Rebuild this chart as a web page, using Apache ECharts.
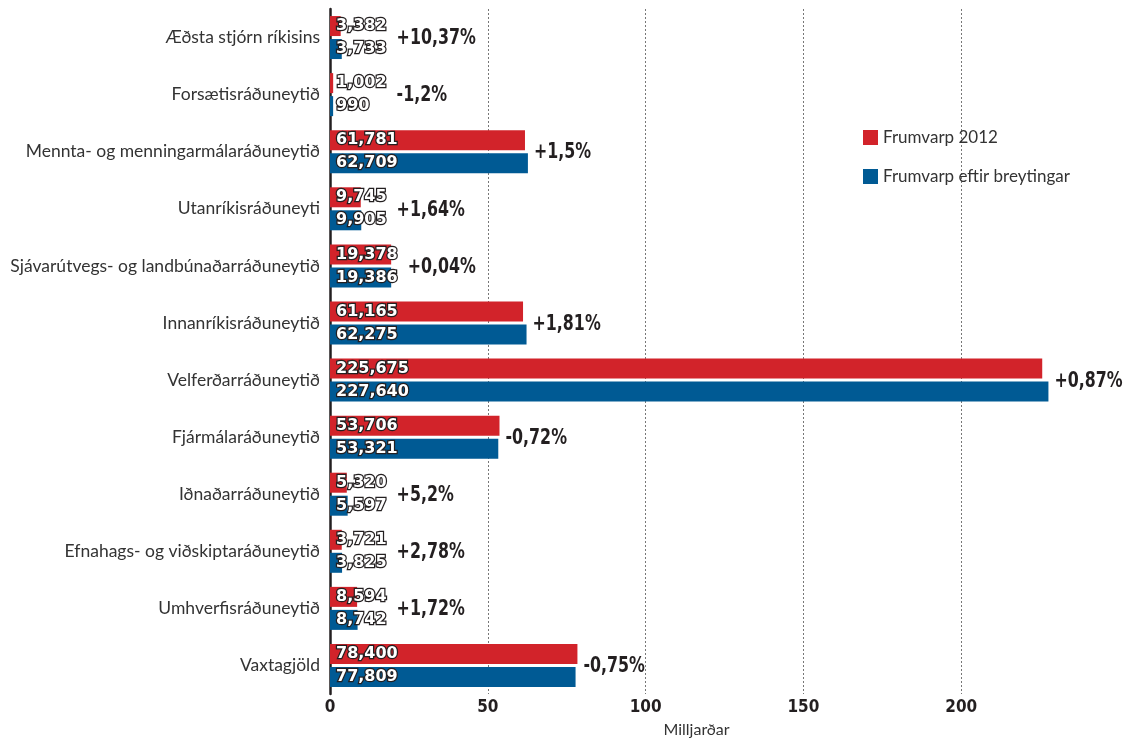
<!DOCTYPE html>
<html>
<head>
<meta charset="utf-8">
<script src="https://cdn.jsdelivr.net/npm/echarts@6/dist/echarts.min.js"></script>
<style>
html,body{margin:0;padding:0;background:#fff;}
#chart{width:1123px;height:740px;}
</style>
</head>
<body>
<div id="chart"></div>
<script>
const categories = [
  'Æðsta stjórn ríkisins',
  'Forsætisráðuneytið',
  'Mennta- og menningarmálaráðuneytið',
  'Utanríkisráðuneyti',
  'Sjávarútvegs- og landbúnaðarráðuneytið',
  'Innanríkisráðuneytið',
  'Velferðarráðuneytið',
  'Fjármálaráðuneytið',
  'Iðnaðarráðuneytið',
  'Efnahags- og viðskiptaráðuneytið',
  'Umhverfisráðuneytið',
  'Vaxtagjöld'
];
// values in millions (axis shows milljarðar)
const frumvarp2012 = [3382, 1002, 61781, 9745, 19378, 61165, 225675, 53706, 5320, 3721, 8594, 78400];
const eftirBreytingar = [3733, 990, 62709, 9905, 19386, 62275, 227640, 53321, 5597, 3825, 8742, 77809];
const changeLabels = ['+10,37%', '-1,2%', '+1,5%', '+1,64%', '+0,04%', '+1,81%', '+0,87%', '-0,72%', '+5,2%', '+2,78%', '+1,72%', '-0,75%'];
const xTicks = [0, 50, 100, 150, 200, 250];
const seriesNames = ['Frumvarp 2012', 'Frumvarp eftir breytingar'];

const RED = '#d2232a', BLUE = '#005a94';
const COND = '"DejaVu Sans Condensed", "Liberation Sans Narrow", "DejaVu Sans", sans-serif';
const fmt = v => v.toLocaleString('en-US');
const valFont = 'bold 16px "DejaVu Sans"';
const measureCtx = document.createElement('canvas').getContext('2d');
function textW(t){ measureCtx.font = valFont; return measureCtx.measureText(t).width; }

const chart = echarts.init(document.getElementById('chart'));

const valueLabel = {
  show: true,
  position: 'insideLeft',
  distance: 6,
  formatter: p => fmt(p.data.raw),
  color: '#fff',
  fontFamily: 'DejaVu Sans',
  fontWeight: 'bold',
  fontSize: 16,
  textBorderColor: '#231f20',
  textBorderWidth: 2.5
};

chart.setOption({
  animation: false,
  grid: { left: 330, right: 4, top: 9, bottom: 46, containLabel: false, outerBoundsMode: 'none' },
  legend: {
    orient: 'vertical',
    left: 858,
    top: 124,
    itemWidth: 15,
    itemHeight: 15,
    itemGap: 22,
    icon: 'rect',
    textStyle: { fontFamily: 'Lato', fontSize: 17, color: '#333', padding: [0, 0, 0, 0] },
    data: seriesNames
  },
  xAxis: {
    type: 'value',
    min: xTicks[0],
    max: xTicks[xTicks.length - 1],
    interval: xTicks[1] - xTicks[0],
    name: 'Milljarðar',
    nameLocation: 'middle',
    nameGap: 28,
    nameTextStyle: { fontFamily: 'Lato', fontSize: 16, color: '#333', padding: [0, 56, 0, 0] },
    axisLine: { show: false },
    axisTick: { show: false },
    axisLabel: {
      showMaxLabel: false,
      margin: 5,
      fontFamily: COND,
      fontWeight: 'bold',
      fontSize: 17,
      color: '#231f20'
    },
    splitLine: {
      show: true,
      lineStyle: {
        type: [2, 2],
        width: 1,
        color: ['rgba(0,0,0,0)', '#777', '#777', '#777', '#777', 'rgba(0,0,0,0)']
      }
    }
  },
  yAxis: {
    type: 'category',
    inverse: true,
    data: categories,
    axisLine: { show: true, lineStyle: { color: '#231f20', width: 2.5 } },
    axisTick: { show: false },
    axisLabel: {
      margin: 10,
      fontFamily: 'Lato',
      fontSize: 17.5,
      color: '#333'
    }
  },
  series: [
    {
      name: seriesNames[0],
      type: 'bar',
      barWidth: 20,
      barGap: '15%',
      itemStyle: { color: RED },
      label: valueLabel,
      data: frumvarp2012.map(v => ({ value: v / 1000, raw: v })),
      z: 2
    },
    {
      name: seriesNames[1],
      type: 'bar',
      barWidth: 20,
      barGap: '15%',
      itemStyle: { color: BLUE },
      label: valueLabel,
      data: eftirBreytingar.map(v => ({ value: v / 1000, raw: v })),
      z: 2
    },
    {
      type: 'custom',
      name: 'change',
      silent: true,
      legendHoverLink: false,
      data: categories.map((c, i) => [i, Math.max(frumvarp2012[i], eftirBreytingar[i]) / 1000]),
      encode: { x: 1, y: 0 },
      renderItem: function (params, api) {
        const i = api.value(0);
        const maxV = api.value(1);
        const endPt = api.coord([maxV, i]);
        const zeroPt = api.coord([0, i]);
        const txtEnd = zeroPt[0] + 6 + Math.max(textW(fmt(frumvarp2012[i])), textW(fmt(eftirBreytingar[i])));
        const barEnd = endPt[0];
        const x = barEnd >= txtEnd ? barEnd + 6 : txtEnd + 10;
        return {
          type: 'text',
          x: x,
          y: endPt[1] + 1,
          scaleX: 0.8,
          style: {
            x: 0,
            y: 0,
            text: changeLabels[i],
            verticalAlign: 'middle',
            align: 'left',
            font: 'bold 22px ' + COND,
            fill: '#231f20'
          }
        };
      },
      z: 3
    }
  ]
});
</script>
</body>
</html>
